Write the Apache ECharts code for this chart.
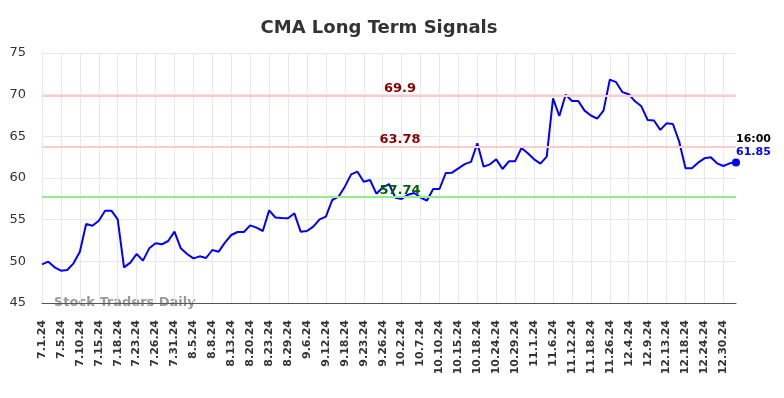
<!DOCTYPE html>
<html>
<head>
<meta charset="utf-8">
<title>CMA Long Term Signals</title>
<script src="https://cdn.jsdelivr.net/npm/echarts@6/dist/echarts.min.js"></script>
<style>
	html,body{margin:0;padding:0;background:#fff;}
	#chart{width:784px;height:398px;}
</style>
</head>
<body>
<div id="chart"></div>
<script>
// 日期（每三个显示一个标签）
var dates = [
	'7.1.24','7.2.24','7.3.24','7.5.24','7.8.24','7.9.24','7.10.24','7.11.24','7.12.24','7.15.24',
	'7.16.24','7.17.24','7.18.24','7.19.24','7.22.24','7.23.24','7.24.24','7.25.24','7.26.24','7.29.24',
	'7.30.24','7.31.24','8.1.24','8.2.24','8.5.24','8.6.24','8.7.24','8.8.24','8.9.24','8.12.24',
	'8.13.24','8.15.24','8.19.24','8.20.24','8.21.24','8.22.24','8.23.24','8.26.24','8.28.24','8.29.24',
	'9.3.24','9.5.24','9.6.24','9.9.24','9.10.24','9.12.24','9.13.24','9.16.24','9.18.24','9.19.24',
	'9.20.24','9.23.24','9.24.24','9.25.24','9.26.24','9.27.24','9.30.24','10.2.24','10.3.24','10.4.24',
	'10.7.24','10.8.24','10.9.24','10.10.24','10.11.24','10.14.24','10.15.24','10.16.24','10.17.24','10.18.24',
	'10.21.24','10.22.24','10.24.24','10.25.24','10.28.24','10.29.24','10.30.24','10.31.24','11.1.24','11.4.24',
	'11.5.24','11.6.24','11.7.24','11.8.24','11.12.24','11.13.24','11.14.24','11.18.24','11.20.24','11.22.24',
	'11.26.24','11.27.24','12.2.24','12.4.24','12.5.24','12.6.24','12.9.24','12.10.24','12.11.24','12.13.24',
	'12.16.24','12.17.24','12.18.24','12.19.24','12.20.24','12.24.24','12.26.24','12.27.24','12.30.24','12.31.24',
	'1.2.25'
];

// 价格
var prices = [
	49.64,49.96,49.28,48.88,48.96,49.76,51.16,54.48,54.28,54.88,
	56.08,56.08,55.04,49.28,49.84,50.88,50.08,51.56,52.16,52.04,
	52.44,53.56,51.56,50.88,50.36,50.6,50.4,51.36,51.16,52.24,
	53.16,53.52,53.52,54.32,54.04,53.64,56.12,55.26,55.2,55.16,
	55.76,53.56,53.64,54.16,55.04,55.36,57.36,57.76,58.96,60.44,
	60.76,59.56,59.76,58.12,58.86,59.28,57.64,57.48,58.0,58.2,
	57.66,57.28,58.68,58.68,60.6,60.64,61.16,61.66,61.94,64.16,
	61.36,61.64,62.24,61.08,62.0,62.02,63.6,62.96,62.24,61.72,
	62.56,69.56,67.44,70.0,69.24,69.24,68.08,67.5,67.12,68.08,
	71.8,71.5,70.3,70.05,69.2,68.6,66.96,66.9,65.78,66.56,
	66.48,64.36,61.16,61.16,61.84,62.36,62.48,61.76,61.44,61.76,
	61.85
];

// 信号线
var redLevels = [69.9, 63.78];
var greenLevels = [57.74];
var lastTime = '16:00';

var yMin = 45, yMax = 75, yStep = 5;

var myChart = echarts.init(document.getElementById('chart'));

var lines = [];
for(var i=0;i<redLevels.length;i++){
	lines.push({
		yAxis: redLevels[i],
		lineStyle:{color:'#ffcccc',width:2,type:'solid'},
		label:{color:'#8b0000'}
	});
}
for(var i=0;i<greenLevels.length;i++){
	lines.push({
		yAxis: greenLevels[i],
		lineStyle:{color:'#90ee90',width:2,type:'solid'},
		label:{color:'#006400'}
	});
}

var last = prices.length-1;

var option = {
	animation:false,
	textStyle:{fontFamily:'DejaVu Sans'},
	title:{
		text:'CMA Long Term Signals',
		left:374,
		top:14,
		textAlign:'center',
		textStyle:{fontSize:18,fontWeight:'bold',color:'#333',fontFamily:'DejaVu Sans'}
	},
	grid:{left:42,right:48,top:53,bottom:95},
	xAxis:{
		type:'category',
		data:dates,
		boundaryGap:false,
		axisLine:{lineStyle:{color:'#555',width:1}},
		axisTick:{show:false},
		axisLabel:{
			interval:2,
			rotate:90,
			margin:17,
			fontSize:11,
			fontWeight:'bold',
			color:'#333',
			fontFamily:'DejaVu Sans'
		},
		splitLine:{show:true,interval:2,lineStyle:{color:'#e8e8e8',width:1}}
	},
	yAxis:{
		type:'value',
		min:yMin,
		max:yMax,
		interval:yStep,
		axisLine:{show:false},
		axisTick:{show:false},
		axisLabel:{fontSize:13,color:'#333',margin:16,fontFamily:'DejaVu Sans'},
		splitLine:{lineStyle:{color:'#e8e8e8',width:1}}
	},
	graphic:[{
		type:'text',
		left:54,
		top:296,
		style:{
			text:'Stock Traders Daily',
			fill:'#999',
			font:'bold 13px "DejaVu Sans"'
		},
		z:0
	}],
	series:[{
		type:'line',
		data:prices,
		symbol:'none',
		lineStyle:{color:'#0000ff',width:2},
		itemStyle:{color:'#0000ff'},
		markLine:{
			silent:true,
			symbol:'none',
			label:{
				position:'middle',
				distance:0,
				formatter:'{c}',
				fontSize:13,
				fontWeight:'bold',
				fontFamily:'DejaVu Sans',
				padding:[0,0,0,22]
			},
			data:lines
		},
		markPoint:{
			symbol:'circle',
			symbolSize:8,
			itemStyle:{color:'#0000ff'},
			label:{
				show:true,
				position:[4,-26],
				align:'left',
				verticalAlign:'top',
				formatter:'{t|'+lastTime+'}\n{v|'+prices[last]+'}',
				rich:{
					t:{color:'#000',fontSize:11,fontWeight:'bold',lineHeight:13,fontFamily:'DejaVu Sans'},
					v:{color:'#0000ff',fontSize:11,fontWeight:'bold',lineHeight:13,fontFamily:'DejaVu Sans'}
				}
			},
			data:[{coord:[last, prices[last]], value:prices[last]}]
		}
	}]
};

myChart.setOption(option);
</script>
</body>
</html>
